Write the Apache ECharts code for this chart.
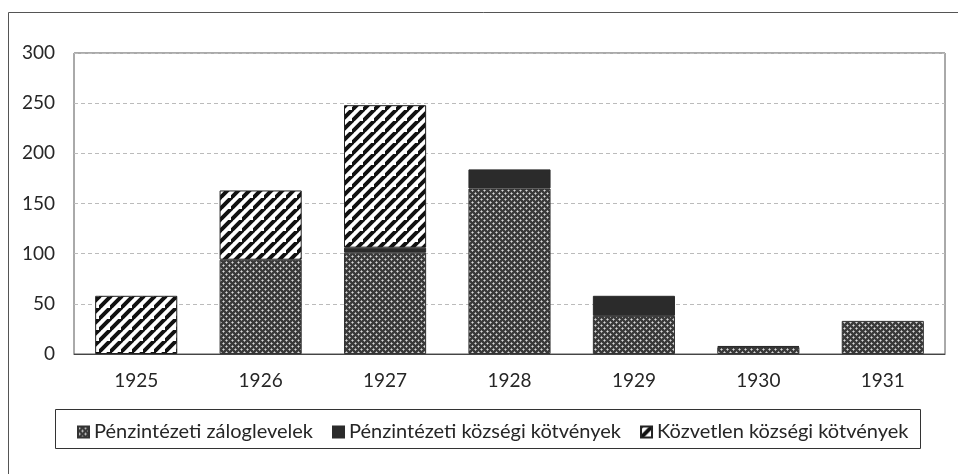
<!DOCTYPE html>
<html lang="hu">
<head>
<meta charset="UTF-8">
<title>Kötvények 1925-1931</title>
<script src="https://cdn.jsdelivr.net/npm/echarts@6/dist/echarts.min.js"></script>
<style>
  html, body { margin: 0; padding: 0; background: #fff; }
  #chart { width: 958px; height: 474px; }
</style>
</head>
<body>
<div id="chart"></div>
<script>
const years = ['1925', '1926', '1927', '1928', '1929', '1930', '1931'];
const zaloglevelek = ['-', 94, 101, 165, 38, 7, 33];
const kozsegiKotvenyek = ['-', '-', 5, 19, 20, 1, '-'];
const kozvetlenKotvenyek = [58, 69, 142, '-', '-', '-', '-'];
const seriesNames = ['Pénzintézeti záloglevelek', 'Pénzintézeti községi kötvények', 'Közvetlen községi kötvények'];
const yTicks = [0, 50, 100, 150, 200, 250, 300];

// dotted cross-hatch tile
function dotPattern() {
  const c = document.createElement('canvas');
  c.width = 6; c.height = 6;
  const g = c.getContext('2d');
  g.fillStyle = '#3a3a3a';
  g.fillRect(0, 0, 6, 6);
  g.fillStyle = '#9a9a9a';
  [[1, 0], [2, 1], [1, 2], [0, 1], [4, 3], [5, 4], [4, 5], [3, 4]].forEach(p => g.fillRect(p[0], p[1], 1, 1));
  g.fillStyle = '#d8d8d8';
  g.fillRect(1, 1, 1, 1);
  g.fillRect(4, 4, 1, 1);
  return c;
}

// "/" diagonal stripes tile
function stripePattern() {
  const s = 11;
  const c = document.createElement('canvas');
  c.width = s; c.height = s;
  const g = c.getContext('2d');
  g.fillStyle = '#fff';
  g.fillRect(0, 0, s, s);
  g.strokeStyle = '#111';
  g.lineWidth = 4;
  g.beginPath();
  g.moveTo(-1, s + 1); g.lineTo(s + 1, -1);
  g.moveTo(-s - 1, s + 1); g.lineTo(1, -1);
  g.moveTo(s - 1, 2 * s + 1); g.lineTo(2 * s + 1, s - 1);
  g.stroke();
  return c;
}

const dots = { image: dotPattern(), repeat: 'repeat' };
const stripes = { image: stripePattern(), repeat: 'repeat' };

const chart = echarts.init(document.getElementById('chart'));
const font = 'Lato, "Open Sans", sans-serif';
const textColor = '#262626';

chart.setOption({
  animation: false,
  textStyle: { fontFamily: font },
  grid: { left: 74, right: 13, top: 53, bottom: 120, show: true, borderColor: '#555', borderWidth: 1 },
  legend: {
    top: 417,
    left: 72,
    itemGap: 19,
    itemWidth: 11,
    itemHeight: 11,
    icon: 'rect',
    textStyle: { fontSize: 20, color: textColor, fontFamily: font },
    data: seriesNames
  },
  xAxis: {
    type: 'category',
    data: years,
    axisLine: { lineStyle: { color: '#444' } },
    axisTick: { show: false },
    axisLabel: { fontSize: 19, color: textColor, margin: 17 }
  },
  yAxis: {
    type: 'value',
    min: yTicks[0],
    max: yTicks[yTicks.length - 1],
    interval: 50,
    axisLine: { show: false },
    axisTick: { show: false },
    axisLabel: { fontSize: 19, color: textColor, margin: 19 },
    splitLine: { lineStyle: { color: '#bbb', type: [4, 3] } }
  },
  graphic: [
    { type: 'line', shape: { x1: 8.5, y1: 12.5, x2: 958, y2: 12.5 }, style: { stroke: '#555', lineWidth: 1 } },
    { type: 'line', shape: { x1: 8.5, y1: 12.5, x2: 8.5, y2: 474 }, style: { stroke: '#555', lineWidth: 1 } },
    { type: 'rect', shape: { x: 55.5, y: 409.5, width: 865, height: 39 }, style: { fill: 'none', stroke: '#333', lineWidth: 1 } }
  ],
  series: [
    {
      name: seriesNames[0], type: 'bar', stack: 'total', data: zaloglevelek,
      barWidth: '66%',
      itemStyle: { color: dots, borderColor: '#333', borderWidth: 1 }
    },
    {
      name: seriesNames[1], type: 'bar', stack: 'total', data: kozsegiKotvenyek,
      itemStyle: { color: '#2b2b2b', borderColor: '#2b2b2b', borderWidth: 1 }
    },
    {
      name: seriesNames[2], type: 'bar', stack: 'total', data: kozvetlenKotvenyek,
      itemStyle: { color: stripes, borderColor: '#222', borderWidth: 1 }
    }
  ]
});
</script>
</body>
</html>
